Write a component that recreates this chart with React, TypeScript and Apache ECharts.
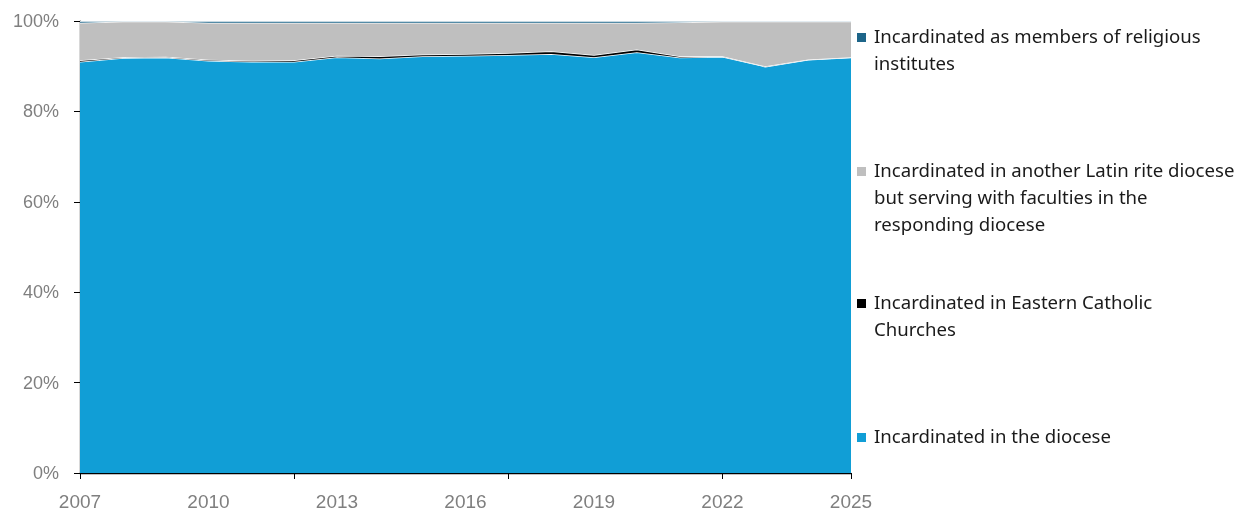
import React, { useEffect, useRef } from "react";
import * as echarts from "echarts";

const years = ["2007","2008","2009","2010","2011","2012","2013","2014","2015","2016","2017","2018","2019","2020","2021","2022","2023","2024","2025"];
const diocese = [91.0, 91.8, 91.9, 91.2, 91.0, 91.0, 92.0, 91.7, 92.2, 92.3, 92.5, 92.7, 92.0, 93.1, 91.9, 92.1, 89.9, 91.4, 91.9];
const eastern = [0.3, 0.2, 0.2, 0.2, 0.2, 0.3, 0.3, 0.5, 0.4, 0.4, 0.4, 0.6, 0.5, 0.6, 0.3, 0.1, 0.1, 0.1, 0.1];
const religious = [0.4, 0.1, 0.1, 0.4, 0.4, 0.4, 0.4, 0.4, 0.4, 0.4, 0.4, 0.4, 0.4, 0.4, 0.3, 0.1, 0.1, 0.1, 0.1];
const latin = [8.3, 7.9, 7.8, 8.2, 8.4, 8.3, 7.3, 7.4, 7.0, 6.9, 6.7, 6.3, 7.1, 5.9, 7.5, 7.7, 9.9, 8.4, 7.9];

const names = [
  "Incardinated in the diocese",
  "Incardinated in Eastern Catholic Churches",
  "Incardinated in another Latin rite diocese but serving with faculties in the responding diocese",
  "Incardinated as members of religious institutes",
];
const colors = ["#119ED6", "#000000", "#BFBFBF", "#1D6589"];

const legendLines: { color: string; lines: string[]; y: number }[] = [
  { color: colors[3], lines: ["Incardinated as members of religious", "institutes"], y: 37 },
  { color: colors[2], lines: ["Incardinated in another Latin rite diocese", "but serving with faculties in the", "responding diocese"], y: 171 },
  { color: colors[1], lines: ["Incardinated in Eastern Catholic", "Churches"], y: 303 },
  { color: colors[0], lines: ["Incardinated in the diocese"], y: 437 },
];

export default function App() {
  const ref = useRef<HTMLDivElement>(null);
  useEffect(() => {
    const chart = echarts.init(ref.current!, null, { renderer: "svg" });
    const axisFont = "'Liberation Sans Narrow', 'Arial Narrow', 'Liberation Sans', sans-serif";
    const legendFont = "'Noto Sans', 'Liberation Sans', sans-serif";
    const graphic: any[] = [];
    legendLines.forEach((item) => {
      graphic.push({
        type: "rect",
        shape: { x: 857, y: item.y - 4, width: 9, height: 9 },
        style: { fill: item.color },
      });
      item.lines.forEach((ln, i) => {
        graphic.push({
          type: "text",
          x: 874,
          y: item.y - 1.5 + i * 26.8,
          style: {
            text: ln,
            fill: "#1a1a1a",
            font: `18.6px ${legendFont}`,
            textVerticalAlign: "middle",
            textAlign: "left",
          },
        });
      });
    });
    const data = [diocese, eastern, latin, religious];
    chart.setOption({
      animation: false,
      grid: { left: 80, right: 387, top: 21, bottom: 39, containLabel: false },
      xAxis: {
        type: "category",
        data: years,
        boundaryGap: false,
        axisLine: { lineStyle: { color: "#000", width: 1.3 } },
        axisTick: { show: true, interval: 4, length: 6, lineStyle: { color: "#000" } },
        axisLabel: { interval: 2, color: "#7f7f7f", fontSize: 19, fontFamily: axisFont, margin: 19, showMaxLabel: true },
        splitLine: { show: false },
      },
      yAxis: {
        type: "value",
        min: 0,
        max: 100,
        interval: 20,
        axisLine: { show: true, lineStyle: { color: "#000", width: 1.3 } },
        axisTick: { show: true, length: 6, lineStyle: { color: "#000" } },
        axisLabel: { color: "#7f7f7f", fontSize: 18, fontFamily: axisFont, formatter: "{value}%", margin: 21 },
        splitLine: { show: false },
      },
      series: data.map((d, i) => ({
        name: names[i],
        type: "line",
        stack: "total",
        data: d,
        showSymbol: false,
        symbol: "none",
        lineStyle: { color: "#fff", width: 1.5 },
        areaStyle: { color: colors[i], opacity: 1 },
        itemStyle: { color: colors[i] },
        z: 2 + i,
      })),
      graphic,
    });
    return () => chart.dispose();
  }, []);
  return <div ref={ref} style={{ position: "fixed", left: 0, top: 0, width: 1238, height: 512 }} />;
}
